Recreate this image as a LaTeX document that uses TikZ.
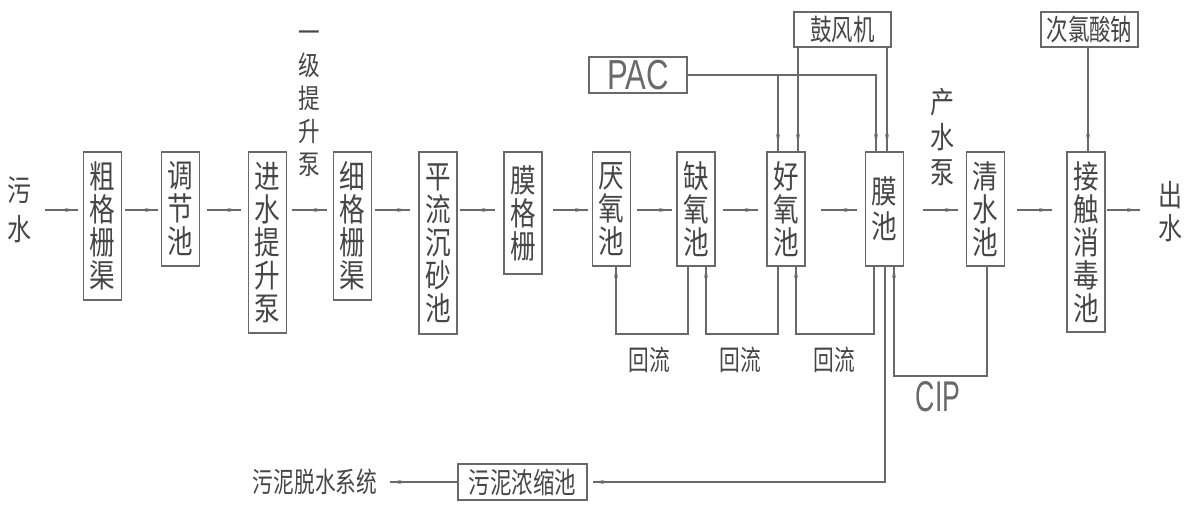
\documentclass[tikz,border=0pt]{standalone}
\usepackage{fontspec}
\usetikzlibrary{calc,decorations.markings,arrows.meta}
\newfontfamily\cjkv[FakeStretch=0.8]{Noto Sans CJK SC}
\newfontfamily\cjkh[FakeStretch=0.74]{Noto Sans CJK SC}
\newfontfamily\latA[FakeStretch=0.74]{Liberation Sans}
\newfontfamily\latB[FakeStretch=0.62]{Liberation Sans}
\definecolor{ln}{RGB}{105,105,105}
\definecolor{tx}{RGB}{70,70,70}
\newcommand\flowto[4]{\draw[wire,arr=3pt] ($(#1.east |- L)+(#3,0)$) -- ($(#2.west |- L)+(-#4,0)$);}
\begin{document}
\begin{tikzpicture}[x=1pt,y=-1pt,
  wire/.style={draw=ln, line width=1.5pt},
  arr/.style={postaction={decorate}, decoration={markings, mark=at position -#1 with {\arrow[ln]{Stealth[length=9pt,width=3.2pt]}}}},
  arr/.default=3pt,
  vbox/.style={draw=ln, line width=1.5pt, rectangle, inner sep=0pt, outer sep=0pt, minimum width=38pt, minimum height=#1, align=center, text=tx, font=\cjkv\fontsize{32}{33}\selectfont},
  hbox/.style={draw=ln, line width=1.5pt, rectangle, inner sep=0pt, outer sep=0pt, align=center, text=tx, font=\cjkh\fontsize{29}{30}\selectfont},
  vtext/.style={inner sep=0pt, outer sep=0pt, align=center, text=tx, font=\cjkv\fontsize{30}{33}\selectfont},
  htext/.style={inner sep=0pt, outer sep=0pt, text=tx, font=\cjkh\fontsize{28}{30}\selectfont}
]
\path[fill=white] (0,0) rectangle (1186,504);
\useasboundingbox (0,0) rectangle (1186,504);

% main process boxes
\node[vbox=148pt] (cu)  at (102.5,226) {粗\\格\\栅\\渠};
\node[vbox=114pt] (tj)  at (180.5,209) {调\\节\\池};
\node[vbox=181pt] (jsb) at (267.5,242.5) {进\\水\\提\\升\\泵};
\node[vbox=148pt] (xg)  at (352.5,226) {细\\格\\栅\\渠};
\node[vbox=182pt] (pl)  at (438,243) {平\\流\\沉\\砂\\池};
\node[vbox=122pt] (mgs) at (523,213) {膜\\格\\栅};
\node[vbox=114pt] (yan) at (611.5,209) {厌\\氧\\池};
\node[vbox=114pt] (que) at (696,209) {缺\\氧\\池};
\node[vbox=114pt] (hao) at (786,209) {好\\氧\\池};
\node[vbox=114pt] (mc)  at (884.5,209) {膜\\[2pt]池};
\node[vbox=114pt] (qs)  at (985.5,209) {清\\水\\池};
\node[vbox=180pt] (jc)  at (1086,242) {接\\触\\消\\毒\\池};

% in / out
\node[vtext] (wsin) at (20,210) {污\\[6pt]水};
\node[vtext] (out)  at (1170,212) {出\\水};

% pump labels
\node[vtext, font=\cjkv\fontsize{27}{33}\selectfont] (yj) at (309,104) {一\\级\\提\\升\\泵};
\node[vtext] (cs) at (942,137) {产\\[2pt]水\\[2pt]泵};

% top feeds
\node[hbox, minimum width=97pt, minimum height=35pt] (blower) at (842.5,29.5) {鼓风机};
\node[hbox, minimum width=97pt, minimum height=35pt] (naclo) at (1089.5,29.5) {次氯酸钠};
\node[hbox, minimum width=98pt, minimum height=36pt, font=\latA\fontsize{42}{42}\selectfont, text=ln] (pac) at (638,75) {PAC};

% sludge
\node[hbox, minimum width=129pt, minimum height=36pt] (wnn) at (522.5,482) {污泥浓缩池};
\node[htext, font=\cjkh\fontsize{28}{30}\selectfont] (wtx) at (315,482) {污泥脱水系统};

% return labels
\node[htext] (hl1) at (649,360) {回流};
\node[htext] (hl2) at (740,360) {回流};
\node[htext] (hl3) at (834,360) {回流};
\node[inner sep=0pt, text=ln, font=\latB\fontsize{43}{43}\selectfont] (cip) at (938,397) {CIP};

% helper coordinates
\coordinate (L) at (0,210);
\coordinate (xb1) at (798,0);
\coordinate (xb2) at (887,0);
\coordinate (xp1) at (778,0);
\coordinate (xp2) at (876,0);
\coordinate (xn) at (1088,0);
\coordinate (lb) at (0,334);
\coordinate (r1a) at (688,0);
\coordinate (r1b) at (616,0);
\coordinate (r2a) at (778,0);
\coordinate (r2b) at (706,0);
\coordinate (r3a) at (874,0);
\coordinate (r3b) at (796,0);
\coordinate (cl) at (0,376);
\coordinate (ca) at (987,0);
\coordinate (cb) at (894,0);
\coordinate (sx) at (885,0);

% main flow
\flowto{wsin}{cu}{13}{5.5}
\flowto{cu}{tj}{3.5}{3.5}
\flowto{tj}{jsb}{7.5}{8}
\flowto{jsb}{xg}{5}{6.5}
\flowto{xg}{pl}{3.5}{9}
\flowto{pl}{mgs}{3}{9}
\flowto{mgs}{yan}{11}{4.5}
\flowto{yan}{que}{6.5}{5}
\flowto{que}{hao}{8}{9}
\flowto{hao}{mc}{16}{8.5}
\flowto{mc}{qs}{19.5}{8.5}
\flowto{qs}{jc}{12.5}{15}
\flowto{jc}{out}{2}{18}

% top feeds
\draw[wire,arr=8pt] (xb1 |- blower.south) -- (xb1 |- hao.north);
\draw[wire,arr=8pt] (xb2 |- blower.south) -- (xb2 |- mc.north);
\draw[wire,arr=8pt] (pac.east) -- (xp2 |- pac.east) -- (xp2 |- mc.north);
\draw[wire,arr=8pt] (xp1 |- pac.east) -- (xp1 |- hao.north);
\draw[wire,arr=8pt] (xn |- naclo.south) -- (xn |- jc.north);

% return loops
\draw[wire,arr=2pt] (r1a |- que.south) -- (r1a |- lb) -- (r1b |- lb) -- (r1b |- yan.south);
\draw[wire,arr=2pt] (r2a |- hao.south) -- (r2a |- lb) -- (r2b |- lb) -- (r2b |- que.south);
\draw[wire,arr=2pt] (r3a |- mc.south) -- (r3a |- lb) -- (r3b |- lb) -- (r3b |- hao.south);
\draw[wire,arr=2pt] (ca |- qs.south) -- (ca |- cl) -- (cb |- cl) -- (cb |- mc.south);

% sludge line
\draw[wire,arr=1pt] (sx |- mc.south) -- (sx |- wnn.east) -- ($(wnn.east)+(6,0)$);
\draw[wire,arr=1pt] (wnn.west) -- ($(wtx.east)+(13,0)$);
\end{tikzpicture}
\end{document}
